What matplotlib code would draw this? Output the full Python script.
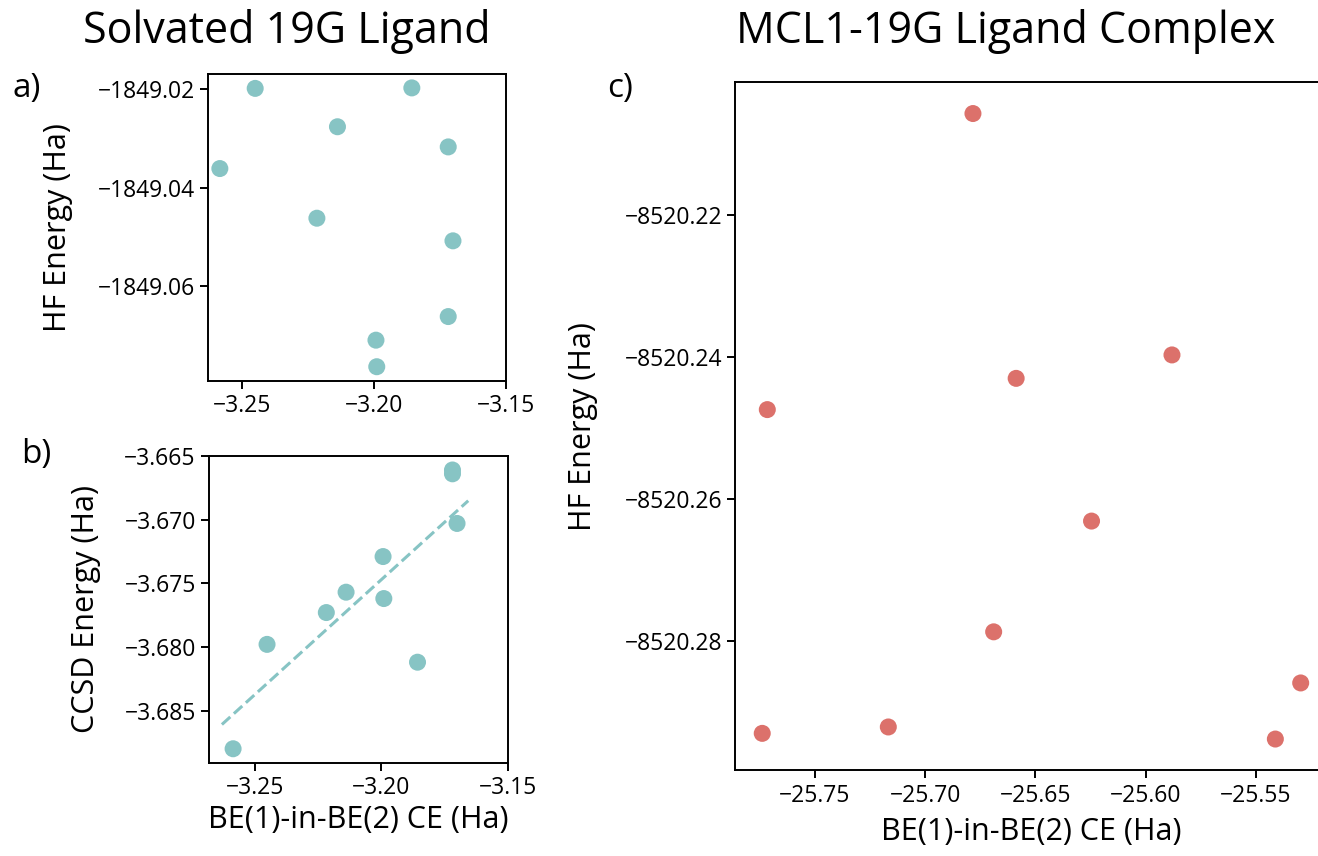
import numpy as np
import matplotlib
matplotlib.use("Agg")
import matplotlib.pyplot as plt

plt.rcParams['font.family'] = ['Open Sans', 'DejaVu Sans']

# 19G ligand in solvent: BE(1)-in-BE(2) correlation energy vs HF / CCSD
lig_ce = [-3.2585, -3.2451, -3.2217, -3.2139, -3.1993, -3.1990, -3.1857, -3.1719, -3.1719, -3.1701]
lig_hf = [-1849.0361, -1849.0198, -1849.0462, -1849.0276, -1849.0710, -1849.0764,
          -1849.0197, -1849.0317, -1849.0662, -1849.0508]
lig_ccsd = [-3.6880, -3.6798, -3.6773, -3.6757, -3.6729, -3.6762, -3.6812, -3.6661, -3.6664, -3.6703]

# MCL1-19G complex
cpx_ce = [-25.7716, -25.6783, -25.6587, -25.5880, -25.7739, -25.7167,
          -25.6245, -25.6689, -25.5296, -25.5411]
cpx_hf = [-8520.2474, -8520.2057, -8520.2430, -8520.2397, -8520.2930, -8520.2921,
          -8520.2631, -8520.2787, -8520.2859, -8520.2938]

teal = '#87c4c4'
red = '#dc716b'
tick_fs = 16.5
label_fs = 22

fig = plt.figure(figsize=(13.18, 8.56), dpi=100)
ax_a = fig.add_axes([0.1578, 0.5553, 0.2261, 0.3583])
ax_b = fig.add_axes([0.1586, 0.1090, 0.2268, 0.3583])
ax_c = fig.add_axes([0.5579, 0.1001, 0.4494, 0.8038])

for ax in (ax_a, ax_b, ax_c):
    for s in ax.spines.values():
        s.set_linewidth(1.4)
    ax.tick_params(labelsize=tick_fs, length=6, width=1.4)
    ax.ticklabel_format(useOffset=False)

# a) HF energy of ligand
ax_a.scatter(lig_ce, lig_hf, s=150, color=teal, edgecolors='none')
ax_a.set_xlim(-3.263, -3.15)
ax_a.set_xticks([-3.25, -3.20, -3.15])
ax_a.set_yticks([-1849.02, -1849.04, -1849.06])
ax_a.set_ylabel('HF Energy (Ha)', fontsize=label_fs, labelpad=18)

# b) CCSD energy of ligand with linear fit
ax_b.scatter(lig_ce, lig_ccsd, s=150, color=teal, edgecolors='none')
coef = np.polyfit(lig_ce, lig_ccsd, 1)
span = max(lig_ce) - min(lig_ce)
xs = np.array([min(lig_ce) - 0.05 * span, max(lig_ce) + 0.05 * span])
ax_b.plot(xs, np.polyval(coef, xs), '--', color=teal, lw=2.2)
ax_b.set_xlim(-3.268, -3.15)
ax_b.set_xticks([-3.25, -3.20, -3.15])
ax_b.set_yticks([-3.665, -3.670, -3.675, -3.680, -3.685])
ax_b.set_ylabel('CCSD Energy (Ha)', fontsize=label_fs, labelpad=17)
ax_b.set_xlabel('BE(1)-in-BE(2) CE (Ha)', fontsize=label_fs)

# c) HF energy of complex
ax_c.scatter(cpx_ce, cpx_hf, s=150, color=red, edgecolors='none')
ax_c.set_xticks([-25.75, -25.70, -25.65, -25.60, -25.55])
ax_c.set_yticks([-8520.22, -8520.24, -8520.26, -8520.28])
ax_c.set_ylabel('HF Energy (Ha)', fontsize=label_fs, labelpad=19)
ax_c.set_xlabel('BE(1)-in-BE(2) CE (Ha)', fontsize=label_fs, labelpad=7)

# titles and panel letters
fig.text(287 / 1318, 1 - 32 / 856, 'Solvated 19G Ligand', fontsize=31, ha='center', va='center')
fig.text(1006 / 1318, 1 - 32 / 856, 'MCL1-19G Ligand Complex', fontsize=31, ha='center', va='center')
fig.text(27 / 1318, 1 - 88 / 856, 'a)', fontsize=24, ha='center', va='center')
fig.text(36 / 1318, 1 - 455 / 856, 'b)', fontsize=24, ha='center', va='center')
fig.text(620 / 1318, 1 - 88 / 856, 'c)', fontsize=24, ha='center', va='center')

fig.savefig('out.png', dpi=100)
